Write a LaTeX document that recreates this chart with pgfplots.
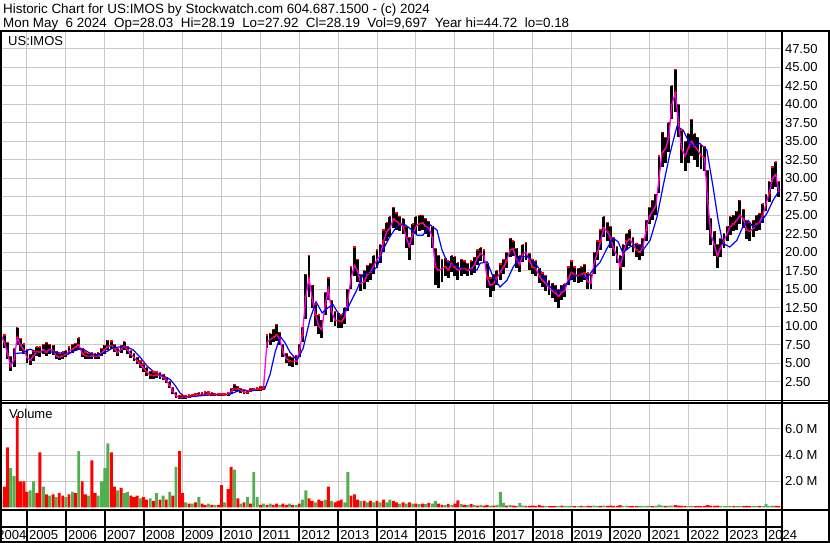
\documentclass[border=0pt]{standalone}
\usepackage{pgfplots}
\pgfplotsset{compat=1.18}
\usepackage{pgfplotstable}
\usepackage{fontspec}
\setmainfont{Liberation Sans}
\definecolor{gridgray}{RGB}{200,200,200}
\definecolor{vgreen}{RGB}{80,176,80}
\definecolor{vred}{RGB}{255,0,0}
\definecolor{mag}{RGB}{255,0,255}
\definecolor{mablue}{RGB}{0,0,255}

% monthly close / high / low
\pgfplotstableread{
x c h l
2004.33 8.8 9.6 8.0
2004.42 7.8 8.8 7.0
2004.50 6.3 7.8 5.5
2004.58 4.6 5.9 3.9
2004.67 5.5 7.0 4.5
2004.75 8.5 9.8 7.5
2004.83 7.5 8.3 6.7
2004.92 6.8 7.6 6.3
2005.00 5.8 6.8 5.0
2005.08 5.4 6.2 4.8
2005.17 6.0 6.6 5.3
2005.25 6.6 7.2 6.0
2005.33 6.5 7.2 5.9
2005.42 6.8 7.5 6.2
2005.50 6.5 7.8 6.0
2005.58 6.9 7.5 6.3
2005.67 6.7 7.4 6.1
2005.75 6.0 6.6 5.6
2005.83 5.8 6.3 5.4
2005.92 6.0 6.5 5.6
2006.00 6.2 6.7 5.8
2006.08 6.6 7.2 6.2
2006.17 6.9 7.5 6.4
2006.25 7.2 7.7 6.7
2006.33 7.5 8.4 6.9
2006.42 6.3 7.0 5.9
2006.50 6.0 6.5 5.5
2006.58 5.9 6.3 5.5
2006.67 6.0 6.4 5.6
2006.75 5.9 6.3 5.5
2006.83 5.9 6.4 5.5
2006.92 6.4 7.0 6.0
2007.00 6.8 7.4 6.3
2007.08 7.3 8.1 6.8
2007.17 7.4 8.0 6.9
2007.25 7.0 7.5 6.5
2007.33 6.4 7.0 6.0
2007.42 6.9 7.4 6.4
2007.50 7.3 7.9 6.8
2007.58 6.8 7.3 6.2
2007.67 6.2 6.7 5.7
2007.75 5.8 6.3 5.3
2007.83 5.3 5.8 4.9
2007.92 4.8 5.3 4.4
2008.00 4.3 4.9 3.8
2008.08 3.8 4.4 3.3
2008.17 3.4 3.9 2.9
2008.25 3.3 3.8 2.9
2008.33 3.4 3.8 3.0
2008.42 3.3 3.7 2.9
2008.50 3.1 3.5 2.7
2008.58 2.7 3.1 2.3
2008.67 2.0 2.5 1.6
2008.75 1.2 1.7 0.8
2008.83 0.6 1.0 0.3
2008.92 0.35 0.6 0.2
2009.00 0.35 0.6 0.18
2009.08 0.4 0.6 0.2
2009.17 0.5 0.7 0.3
2009.25 0.6 0.8 0.4
2009.33 0.7 0.9 0.5
2009.42 0.75 1.0 0.6
2009.50 0.8 1.0 0.6
2009.58 0.8 1.1 0.6
2009.67 0.85 1.1 0.65
2009.75 0.8 1.0 0.6
2009.83 0.75 0.95 0.55
2009.92 0.75 0.95 0.55
2010.00 0.75 0.95 0.55
2010.08 0.7 0.9 0.5
2010.17 0.8 1.0 0.6
2010.25 1.2 1.6 0.9
2010.33 1.6 2.1 1.3
2010.42 1.5 1.9 1.2
2010.50 1.3 1.6 1.0
2010.58 1.1 1.4 0.9
2010.67 1.0 1.3 0.8
2010.75 1.3 1.6 1.1
2010.83 1.4 1.6 1.2
2010.92 1.5 1.7 1.3
2011.00 1.5 1.8 1.3
2011.08 1.6 1.8 1.4
2011.17 7.8 8.8 7.0
2011.25 8.2 9.0 7.4
2011.33 8.5 9.6 7.8
2011.42 8.8 10.2 8.0
2011.50 8.3 9.2 7.5
2011.58 6.5 7.5 5.8
2011.67 5.6 6.3 5.0
2011.75 5.3 5.9 4.6
2011.83 5.2 5.8 4.5
2011.92 5.3 6.0 4.8
2012.00 6.5 7.5 5.8
2012.08 8.8 9.8 7.8
2012.17 14.0 17.0 11.0
2012.25 16.5 19.5 14.0
2012.33 13.8 15.5 12.5
2012.42 11.5 13.0 10.0
2012.50 10.0 11.5 9.0
2012.58 9.5 10.8 8.4
2012.67 13.0 14.5 11.5
2012.75 15.0 16.5 13.5
2012.83 12.0 13.5 10.5
2012.92 10.8 12.0 10.0
2013.00 10.8 11.8 9.8
2013.08 10.6 11.5 9.8
2013.17 11.2 12.5 10.3
2013.25 13.5 15.0 12.0
2013.33 16.5 18.0 15.0
2013.42 18.2 20.7 16.8
2013.50 17.5 19.0 16.0
2013.58 15.8 17.0 14.8
2013.67 16.0 17.5 15.0
2013.75 17.0 18.2 16.0
2013.83 17.3 18.5 16.3
2013.92 18.2 19.5 17.0
2014.00 19.0 20.3 17.8
2014.08 19.5 21.0 18.5
2014.17 21.5 23.0 20.0
2014.25 22.8 24.0 21.5
2014.33 23.2 24.8 22.0
2014.42 24.5 26.0 23.3
2014.50 24.2 25.3 23.0
2014.58 23.8 24.8 22.8
2014.67 23.5 24.5 22.5
2014.75 22.0 23.5 20.5
2014.83 20.8 22.0 18.9
2014.92 22.5 23.8 21.0
2015.00 23.5 24.8 22.5
2015.08 23.8 25.0 22.8
2015.17 24.0 25.0 23.0
2015.25 23.5 24.6 22.5
2015.33 23.3 24.2 22.0
2015.42 22.0 23.5 20.5
2015.50 18.0 20.5 15.5
2015.58 17.5 19.5 15.1
2015.67 17.8 19.0 16.0
2015.75 18.0 19.2 16.8
2015.83 17.6 18.8 16.5
2015.92 18.5 19.5 17.3
2016.00 18.0 19.4 16.8
2016.08 17.5 18.6 16.3
2016.17 17.8 19.0 16.8
2016.25 17.8 18.8 17.0
2016.33 17.6 18.5 16.8
2016.42 17.8 18.8 16.9
2016.50 18.2 19.3 17.2
2016.58 19.3 20.3 18.3
2016.67 19.8 20.6 18.8
2016.75 19.5 20.3 18.5
2016.83 16.5 18.5 15.2
2016.92 15.5 16.5 14.0
2017.00 15.8 17.0 14.8
2017.08 16.5 17.5 15.5
2017.17 17.3 18.4 16.3
2017.25 18.0 19.0 17.0
2017.33 18.8 20.0 17.8
2017.42 20.3 21.9 19.3
2017.50 20.5 21.5 19.5
2017.58 19.0 20.5 17.8
2017.67 18.3 19.5 17.3
2017.75 19.8 21.0 18.7
2017.83 20.0 21.3 19.0
2017.92 18.8 19.8 17.6
2018.00 18.0 19.0 17.0
2018.08 17.8 18.8 16.8
2018.17 16.8 17.8 15.8
2018.25 16.2 17.2 15.3
2018.33 15.8 16.8 14.8
2018.42 15.2 16.2 14.2
2018.50 14.8 15.8 13.8
2018.58 14.5 15.5 13.3
2018.67 14.0 15.0 12.4
2018.75 14.6 15.5 13.6
2018.83 14.8 15.7 13.9
2018.92 16.5 18.0 15.5
2019.00 17.3 18.8 16.2
2019.08 17.0 18.0 16.0
2019.17 16.8 17.8 15.8
2019.25 17.0 18.0 16.0
2019.33 17.2 18.3 16.2
2019.42 16.0 17.2 15.0
2019.50 15.8 17.0 15.0
2019.58 18.5 20.0 17.0
2019.67 20.0 21.5 19.0
2019.75 21.5 23.0 20.3
2019.83 23.3 24.8 22.0
2019.92 22.8 24.0 21.5
2020.00 22.0 23.5 20.5
2020.08 20.5 22.0 19.5
2020.17 19.5 20.8 18.5
2020.25 18.0 19.5 14.9
2020.33 19.8 21.0 18.0
2020.42 21.5 22.5 20.3
2020.50 21.8 23.0 20.8
2020.58 21.0 22.0 20.0
2020.67 20.3 21.2 19.3
2020.75 20.0 21.0 19.0
2020.83 20.5 21.8 19.5
2020.92 23.0 24.3 21.5
2021.00 24.8 26.0 23.8
2021.08 25.5 27.0 24.3
2021.17 26.3 27.8 25.0
2021.25 30.0 33.0 28.0
2021.33 33.5 36.2 31.5
2021.42 34.0 35.5 32.0
2021.50 35.5 37.5 33.5
2021.58 40.0 42.5 38.0
2021.67 41.5 44.7 39.0
2021.75 37.5 40.0 35.5
2021.83 34.0 36.5 32.0
2021.92 33.0 35.0 31.0
2022.00 34.0 36.0 32.0
2022.08 35.0 37.9 33.0
2022.17 34.3 36.0 32.5
2022.25 33.8 35.5 31.5
2022.33 33.0 34.5 31.3
2022.42 32.8 34.3 31.0
2022.50 27.0 31.0 23.0
2022.58 22.5 24.5 21.0
2022.67 21.0 22.8 19.5
2022.75 19.5 21.0 17.8
2022.83 20.5 21.8 19.3
2022.92 21.5 22.5 20.5
2023.00 22.5 23.5 21.5
2023.08 23.5 24.8 22.3
2023.17 23.8 25.0 22.8
2023.25 24.3 25.5 23.0
2023.33 25.0 27.0 23.8
2023.42 24.5 25.8 23.3
2023.50 23.0 24.3 21.8
2023.58 22.8 24.0 21.5
2023.67 23.2 24.3 22.0
2023.75 23.8 25.0 22.8
2023.83 24.0 25.2 23.0
2023.92 25.0 26.5 24.0
2024.00 26.5 27.8 25.5
2024.08 28.0 29.5 26.8
2024.17 30.0 31.5 28.5
2024.25 30.5 32.2 28.8
2024.33 28.2 29.5 27.5
}\price

% long moving average (blue)
\pgfplotstableread{
x m
2004.69 6.3
2004.87 6.4
2005.08 6.9
2005.26 6.5
2005.46 6.5
2005.72 6.5
2005.93 6.3
2006.05 6.2
2006.23 6.7
2006.41 7.0
2006.57 6.5
2006.75 6.1
2006.90 6.2
2007.06 6.6
2007.21 7.1
2007.39 7.2
2007.57 7.2
2007.73 6.8
2007.91 5.8
2008.09 4.6
2008.29 3.7
2008.50 3.3
2008.68 2.8
2008.81 2.0
2008.93 1.0
2009.06 0.45
2009.19 0.45
2009.45 0.6
2009.71 0.7
2009.96 0.75
2010.22 0.8
2010.40 1.2
2010.55 1.4
2010.73 1.25
2010.94 1.4
2011.12 1.6
2011.25 3.5
2011.38 6.5
2011.51 8.6
2011.63 7.8
2011.76 6.5
2011.94 5.4
2012.10 7.0
2012.28 11.0
2012.43 13.3
2012.59 11.8
2012.74 12.5
2012.87 12.9
2013.05 11.3
2013.25 12.5
2013.48 14.9
2013.64 17.0
2013.82 17.2
2014.00 18.0
2014.15 20.3
2014.33 22.1
2014.51 23.5
2014.67 23.9
2014.85 23.2
2015.03 22.3
2015.18 22.3
2015.36 23.7
2015.54 23.0
2015.67 20.3
2015.80 18.7
2015.95 18.3
2016.21 17.6
2016.57 17.6
2016.65 18.5
2016.83 18.7
2016.98 16.7
2017.16 15.3
2017.34 16.2
2017.50 18.0
2017.68 19.4
2017.86 19.4
2018.01 18.9
2018.19 17.6
2018.37 15.8
2018.52 14.9
2018.70 14.6
2018.88 15.8
2019.04 16.7
2019.22 16.9
2019.40 16.5
2019.55 17.6
2019.73 18.6
2019.91 20.5
2020.07 21.9
2020.20 21.4
2020.32 19.9
2020.50 20.7
2020.68 21.2
2020.84 20.3
2021.02 21.6
2021.20 24.8
2021.35 28.8
2021.53 33.3
2021.71 37.0
2021.87 36.5
2021.99 35.2
2022.12 34.3
2022.30 34.7
2022.48 33.8
2022.64 28.8
2022.77 24.3
2022.89 21.2
2023.07 20.7
2023.25 21.6
2023.41 23.5
2023.54 24.3
2023.67 23.4
2023.85 23.9
2024.03 25.3
2024.18 27.0
2024.36 28.5
}\bluema

% volume, millions, down months (red)
\pgfplotstableread{
x v
2004.42 1.6
2004.50 4.6
2004.75 7.0
2004.83 2.0
2004.92 2.0
2005.00 1.2
2005.25 1.1
2005.33 4.2
2005.50 1.0
2005.67 1.0
2005.83 1.1
2005.92 0.9
2006.08 1.0
2006.25 1.1
2006.42 2.0
2006.50 1.0
2006.67 3.6
2006.75 1.1
2007.17 4.2
2007.25 1.6
2007.42 1.5
2007.67 0.9
2007.75 0.8
2007.83 0.9
2008.00 0.8
2008.08 0.6
2008.25 0.5
2008.42 0.6
2008.58 0.6
2008.75 0.9
2008.92 4.3
2009.00 1.1
2009.17 0.3
2009.33 0.4
2009.50 0.3
2009.58 0.2
2009.75 0.2
2009.92 0.2
2010.00 1.7
2010.17 1.4
2010.25 3.1
2010.42 0.7
2010.58 0.4
2010.75 0.3
2011.00 0.2
2011.17 0.2
2011.33 0.2
2011.42 0.3
2011.58 0.3
2011.67 0.2
2011.83 0.2
2012.00 0.3
2012.25 0.7
2012.33 0.5
2012.50 0.6
2012.58 0.5
2012.75 1.6
2012.92 0.4
2013.00 0.5
2013.08 0.6
2013.33 0.9
2013.42 1.0
2013.50 0.6
2013.67 0.5
2013.83 0.5
2014.00 0.5
2014.17 0.6
2014.42 0.5
2014.50 0.4
2014.67 0.4
2014.83 0.4
2015.00 0.3
2015.17 0.3
2015.33 0.35
2015.58 0.3
2015.67 0.2
2015.83 0.25
2016.00 0.3
2016.08 0.55
2016.25 0.2
2016.42 0.25
2016.58 0.15
2016.75 0.15
2016.83 0.2
2017.00 0.15
2017.33 0.15
2017.50 0.15
2017.58 0.12
2017.83 0.12
2017.92 0.12
2018.00 0.15
2018.08 0.12
2018.17 0.2
2018.25 0.12
2018.42 0.12
2018.50 0.1
2018.58 0.12
2018.75 0.15
2019.08 0.1
2019.25 0.12
2019.42 0.12
2019.50 0.1
2019.75 0.12
2019.92 0.12
2020.00 0.15
2020.08 0.12
2020.17 0.12
2020.25 0.18
2020.50 0.1
2020.58 0.12
2020.67 0.1
2021.08 0.1
2021.42 0.12
2021.67 0.18
2021.75 0.15
2021.83 0.12
2021.92 0.12
2022.17 0.1
2022.25 0.12
2022.33 0.1
2022.42 0.12
2022.50 0.18
2022.58 0.15
2022.67 0.12
2022.75 0.15
2023.17 0.1
2023.42 0.1
2023.50 0.12
2023.58 0.1
2023.83 0.1
2024.25 0.12
2024.33 0.1
}\volred

% volume, millions, up months (green)
\pgfplotstableread{
x v
2004.33 0.6
2004.58 3.0
2004.67 2.4
2005.08 1.3
2005.17 2.0
2005.42 1.6
2005.58 0.9
2005.75 0.8
2006.00 0.8
2006.17 1.2
2006.33 4.3
2006.58 0.9
2006.83 0.9
2006.92 2.0
2007.00 3.0
2007.08 4.9
2007.33 1.3
2007.50 1.1
2007.58 1.2
2007.92 0.7
2008.17 0.7
2008.33 1.1
2008.50 0.9
2008.67 1.2
2008.83 3.1
2009.08 0.4
2009.25 0.3
2009.42 0.8
2009.67 0.3
2009.83 0.2
2010.08 0.4
2010.33 2.9
2010.50 0.3
2010.67 0.8
2010.83 2.7
2010.92 0.8
2011.08 0.3
2011.25 0.3
2011.50 0.2
2011.75 0.3
2011.92 0.2
2012.08 0.6
2012.17 1.3
2012.42 0.4
2012.67 0.6
2012.83 0.5
2013.17 0.4
2013.25 2.7
2013.58 0.5
2013.75 0.4
2013.92 0.4
2014.08 0.4
2014.25 0.4
2014.33 0.6
2014.58 0.3
2014.75 0.3
2014.92 0.3
2015.08 0.25
2015.25 0.25
2015.42 0.3
2015.50 0.5
2015.75 0.2
2015.92 0.2
2016.17 0.25
2016.33 0.2
2016.50 0.2
2016.67 0.2
2016.92 0.15
2017.08 0.2
2017.17 1.2
2017.25 0.35
2017.42 0.2
2017.67 0.35
2017.75 0.15
2018.33 0.1
2018.67 0.1
2018.83 0.12
2018.92 0.12
2019.00 0.12
2019.17 0.1
2019.33 0.1
2019.58 0.14
2019.67 0.12
2019.83 0.15
2020.33 0.12
2020.42 0.15
2020.75 0.12
2020.83 0.1
2020.92 0.12
2021.00 0.12
2021.17 0.12
2021.25 0.22
2021.33 0.15
2021.50 0.15
2021.58 0.15
2022.00 0.1
2022.08 0.12
2022.83 0.12
2022.92 0.1
2023.00 0.1
2023.08 0.12
2023.25 0.1
2023.33 0.12
2023.67 0.1
2023.75 0.12
2023.92 0.1
2024.00 0.25
2024.08 0.12
2024.17 0.15
}\volgreen

\newcommand{\lbl}{\fontsize{13}{15}\selectfont}
\newcommand{\hdr}{\fontsize{13.4}{15}\selectfont}

\begin{document}
\begin{tikzpicture}[x=1pt,y=1pt]
\fill[white] (0,0) rectangle (830,543);

% ---------------- price panel (image y 30.2 .. 400.2) ----------------
\begin{axis}[
  at={(0pt,142.8pt)}, anchor=south west,
  scale only axis, width=781pt, height=370pt,
  xmin=2004.306, xmax=2024.386, ymin=0, ymax=50,
  axis line style={draw=none},
  major tick length=0pt,
  xtick={2005,2006,...,2024}, xticklabels={,,},
  ytick={2.5,5,...,47.5},
  yticklabel pos=right,
  yticklabel style={anchor=west, xshift=0.5pt, font=\lbl},
  /pgf/number format/fixed, /pgf/number format/fixed zerofill,
  /pgf/number format/precision=2, /pgf/number format/assume math mode=true,
  grid=major, major grid style={gridgray, line width=1pt},
  clip=true,
]
\addplot[only marks, mark=-, mark size=1.4pt, mark options={vred, line width=1.2pt},
  error bars/.cd, y dir=both, y explicit, error mark=none,
  error bar style={draw=black, line width=2.9pt}]
  table[x=x, y=c, y error plus expr=\thisrow{h}-\thisrow{c}, y error minus expr=\thisrow{c}-\thisrow{l}] {\price};
\addplot[only marks, mark=-, mark size=1.2pt, mark options={vred, line width=1.2pt}]
  table[x=x, y=h] {\price};
\addplot[mag, line width=1.3pt] table[x=x, y=c] {\price};
\addplot[mablue, line width=1.2pt] table[x=x, y=m] {\bluema};
\end{axis}

% ---------------- volume panel (image y 403 .. 507.5) ----------------
\begin{axis}[
  at={(0pt,35.5pt)}, anchor=south west,
  scale only axis, width=781pt, height=104.5pt,
  xmin=2004.306, xmax=2024.386, ymin=0, ymax=7.98,
  axis line style={draw=none},
  major tick length=0pt,
  xtick={2005,2006,...,2024}, xticklabels={,,},
  ytick={2,4,6}, yticklabels={2.0 M,4.0 M,6.0 M},
  yticklabel pos=right,
  yticklabel style={anchor=west, xshift=0.5pt, font=\lbl},
  grid=major, major grid style={gridgray, line width=1pt},
  clip=true,
]
\addplot[ybar, bar width=2.9pt, bar shift=0pt, fill=vgreen, draw=none] table[x=x, y=v] {\volgreen};
\addplot[ybar, bar width=2.9pt, bar shift=0pt, fill=vred, draw=none] table[x=x, y=v] {\volred};
\end{axis}

% ---------------- decorations, in image coordinates ----------------
\begin{scope}[shift={(0,543)}, y=-1pt]
\node[anchor=base west, inner sep=0pt, font=\hdr] at (3,14) {Historic Chart for US:IMOS by Stockwatch.com 604.687.1500 - (c) 2024};
\node[anchor=base west, inner sep=0pt, font=\hdr] at (3,27.5) {Mon May~~6 2024~~Op=28.03~~Hi=28.19~~Lo=27.92~~Cl=28.19~~Vol=9,697~~Year hi=44.72~~lo=0.18};
\node[anchor=base west, inner sep=0pt, font=\lbl] at (8,45.5) {US:IMOS};
\node[anchor=base west, inner sep=0pt, font=\lbl] at (9,418.5) {Volume};

\draw[line width=2pt] (0,31) -- (830,31);
\draw[line width=1.5pt] (0,400.6) -- (830,400.6);
\draw[line width=1.5pt] (0,403.2) -- (830,403.2);
\draw[line width=2.5pt] (0,510) -- (830,510);
\draw[line width=2pt] (0,527) -- (782,527);
\draw[line width=2pt] (0,542) -- (830,542);
\draw[line width=2pt] (1,31) -- (1,543);
\draw[line width=2pt] (782,31) -- (782,542);
\draw[line width=2pt] (829,31) -- (829,543);
\foreach \k in {0,...,19} {
  \draw[line width=2pt] ({27+38.895*\k},510) -- ({27+38.895*\k},542);
}
\node[anchor=base east, inner sep=0pt, font=\lbl] at (26.5,539.5) {2004};
\foreach \k [evaluate=\k as \yr using int(2005+\k)] in {0,...,19} {
  \node[anchor=base west, inner sep=0pt, font=\lbl] at ({27+38.895*\k+2},539.5) {\yr};
}
\end{scope}
\pgfresetboundingbox
\path[use as bounding box] (0,0) rectangle (830,543);
\end{tikzpicture}
\end{document}
